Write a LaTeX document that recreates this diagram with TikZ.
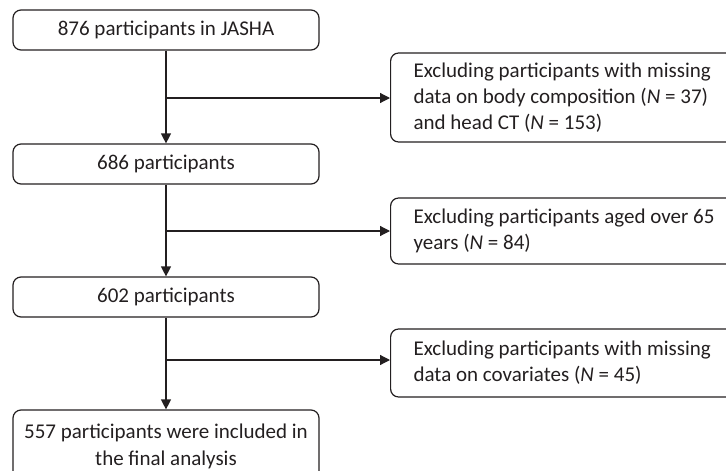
\documentclass[tikz,border=0pt]{standalone}
\usepackage{fontspec}
\setmainfont{Carlito}
\usetikzlibrary{arrows.meta}
\definecolor{ink}{HTML}{231F20}
\begin{document}
\begin{tikzpicture}[x=1pt,y=-1pt,
  every node/.style={font=\fontsize{21}{27}\selectfont, text=ink},
  mainbox/.style={draw=ink, line width=1.2pt, rounded corners=8pt, minimum width=306pt, inner sep=0pt, align=center},
  sidebox/.style={draw=ink, line width=1.2pt, rounded corners=8pt, minimum width=340pt, inner sep=0pt},
  conn/.style={draw=ink, line width=1.2pt},
  arr/.style={conn, -{Triangle[length=10pt,width=10pt]}}]
\useasboundingbox (0,0) rectangle (726,471);
\clip (0,0) rectangle (726,471);
\node[mainbox, minimum height=40pt] (n1) at (166,30) {876 participants in JASHA};
\node[mainbox, minimum height=40pt] (n2) at (166,164) {686 participants};
\node[mainbox, minimum height=40pt] (n3) at (166,297) {602 participants};
\node[mainbox, minimum height=72pt] (n4) at (166,446) {557 participants were included in\\the final analysis};
\node[sidebox, minimum height=89pt, anchor=west] (r1) at (390,97.5)
  {\hspace*{23pt}\parbox{320pt}{\fontsize{21}{26}\selectfont\raggedright Excluding participants with missing\\data on body composition (\textit{N} = 37)\\and head CT (\textit{N} = 153)}};
\node[sidebox, minimum height=66pt, anchor=west] (r2) at (390,231)
  {\hspace*{23pt}\parbox{320pt}{\fontsize{21}{26}\selectfont\raggedright Excluding participants aged over 65\\years (\textit{N} = 84)}};
\node[sidebox, minimum height=68pt, anchor=west] (r3) at (390,363)
  {\hspace*{23pt}\parbox{320pt}{\fontsize{21}{26}\selectfont\raggedright Excluding participants with missing\\data on covariates (\textit{N} = 45)}};
\coordinate (b1) at (166,98);
\coordinate (b2) at (166,231);
\coordinate (b3) at (166,360);
\draw[arr] (n1) -- (n2);
\draw[arr] (n2) -- (n3);
\draw[arr] (n3) -- (n4);
\draw[arr] (b1) -- (b1 -| r1.west);
\draw[arr] (b2) -- (b2 -| r2.west);
\draw[arr] (b3) -- (b3 -| r3.west);
\end{tikzpicture}
\end{document}
